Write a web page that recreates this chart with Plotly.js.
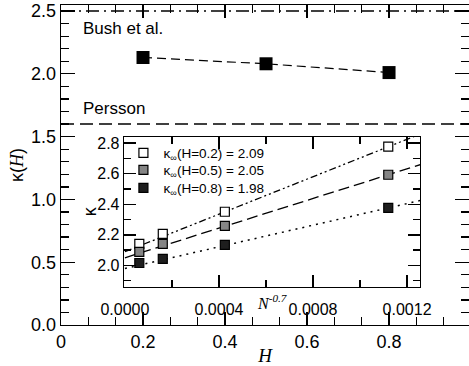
<!DOCTYPE html>
<html>
<head>
<meta charset="utf-8">
<script src="https://cdn.plot.ly/plotly-3.0.1.min.js"></script>
<style>html,body{margin:0;padding:0;background:#fff;overflow:hidden}</style>
</head>
<body>
<div id="chart" style="width:469px;height:366px"></div>
<script>
// Main panel data
var mainH = [0.2, 0.5, 0.8];
var mainKappa = [2.13, 2.08, 2.01];
var refLineX = [0, 1];
var bushLevel = [2.5, 2.5];
var perssonLevel = [1.6, 1.6];

// Inset data (x = N^-0.7)
var insetX = [0.0000611, 0.000161, 0.000425, 0.00112];
var insetH02 = [2.141, 2.207, 2.351, 2.777];
var insetH05 = [2.089, 2.141, 2.259, 2.593];
var insetH08 = [2.016, 2.043, 2.134, 2.377];
var fitX = [0, 0.00126];
var fitH02 = [2.09, 2.862];
var fitH05 = [2.05, 2.661];
var fitH08 = [1.98, 2.426];
var legendNames = ['κ<sub>∞</sub>(H=0.2) = 2.09', 'κ<sub>∞</sub>(H=0.5) = 2.05', 'κ<sub>∞</sub>(H=0.8) = 1.98'];

var SANS = "'Liberation Sans', Arial, sans-serif";
var SERIF = "'Liberation Serif', 'Times New Roman', serif";

var traces = [
  {x: refLineX, y: bushLevel, mode: 'lines', line: {color: 'black', width: 1.5, dash: '13px,5px,2px,5px'}, showlegend: false, xaxis: 'x', yaxis: 'y', hoverinfo: 'skip'},
  {x: refLineX, y: perssonLevel, mode: 'lines', line: {color: 'black', width: 1.5, dash: '13px,6px'}, showlegend: false, xaxis: 'x', yaxis: 'y', hoverinfo: 'skip'},
  {x: mainH, y: mainKappa, mode: 'lines+markers', line: {color: 'black', width: 1.2, dash: '9px,5px'},
   marker: {symbol: 'square', size: 13, color: 'black'}, showlegend: false, xaxis: 'x', yaxis: 'y'},
  // inset fits
  {x: fitX, y: fitH02, mode: 'lines', line: {color: 'black', width: 1.3, dash: '7px,3px,2px,3px,2px,3px'}, showlegend: false, xaxis: 'x2', yaxis: 'y2', hoverinfo: 'skip'},
  {x: fitX, y: fitH05, mode: 'lines', line: {color: 'black', width: 1.3, dash: '11px,5px'}, showlegend: false, xaxis: 'x2', yaxis: 'y2', hoverinfo: 'skip'},
  {x: fitX, y: fitH08, mode: 'lines', line: {color: 'black', width: 1.5, dash: '2px,5px'}, showlegend: false, xaxis: 'x2', yaxis: 'y2', hoverinfo: 'skip'},
  // inset points
  {x: insetX, y: insetH02, mode: 'markers', name: legendNames[0], legend: 'legend', marker: {symbol: 'square', size: 9, color: 'white', line: {color: 'black', width: 1.2}}, xaxis: 'x2', yaxis: 'y2'},
  {x: insetX, y: insetH05, mode: 'markers', name: legendNames[1], legend: 'legend2', marker: {symbol: 'square', size: 9, color: '#858585', line: {color: 'black', width: 1.2}}, xaxis: 'x2', yaxis: 'y2'},
  {x: insetX, y: insetH08, mode: 'markers', name: legendNames[2], legend: 'legend3', marker: {symbol: 'square', size: 9, color: '#1e1e1e', line: {color: 'black', width: 1.2}}, xaxis: 'x2', yaxis: 'y2'}
];

var axCommon = {showline: true, linecolor: 'black', linewidth: 1.3, mirror: 'allticks', ticks: 'inside',
  tickcolor: 'black', tickwidth: 1.3, showgrid: false, zeroline: false};

function legendAt(yPaper) {
  return {x: 0.153, xanchor: 'left', y: yPaper, yanchor: 'middle', bgcolor: 'rgba(0,0,0,0)',
    font: {family: SANS, size: 13.5, color: 'black'}};
}

var layout = {
  width: 469, height: 366,
  margin: {l: 61, r: 0, t: 5, b: 41},
  paper_bgcolor: 'white', plot_bgcolor: 'white',
  font: {family: SANS, color: 'black'},
  showlegend: true,
  legend: legendAt(0.5375),
  legend2: legendAt(0.484),
  legend3: legendAt(0.428),
  xaxis: Object.assign({}, axCommon, {
    range: [0, 0.995], tick0: 0, dtick: 0.2, ticklen: 13,
    minor: {dtick: 0.2 / 3, ticklen: 8, tickcolor: 'black', tickwidth: 1.3, ticks: 'inside'},
    tickfont: {family: SANS, size: 18},
    title: {text: '<i>H</i>', font: {family: SERIF, size: 19}, standoff: 3}
  }),
  yaxis: Object.assign({}, axCommon, {
    range: [0, 2.548], tick0: 0, dtick: 0.5, ticklen: 14, tickformat: '.1f',
    minor: {dtick: 0.1, ticklen: 8, tickcolor: 'black', tickwidth: 1.3, ticks: 'inside'},
    tickfont: {family: SANS, size: 18},
    title: {text: 'κ(<span style="font-family:Liberation Serif"><i>H</i></span>)', font: {family: SANS, size: 18}, standoff: 2}
  }),
  xaxis2: Object.assign({}, axCommon, {
    domain: [0.1544, 0.8799], anchor: 'y2',
    range: [-0.000004, 0.001255], tick0: 0, dtick: 0.0004, ticklen: 12, tickformat: '.4f',
    minor: {dtick: 0.0002, ticklen: 7, tickcolor: 'black', tickwidth: 1.3, ticks: 'inside'},
    tickfont: {family: SANS, size: 16}, ticklabelstandoff: 8
  }),
  yaxis2: Object.assign({}, axCommon, {
    domain: [0.1188, 0.5875], anchor: 'x2',
    range: [1.859, 2.84], tick0: 0, dtick: 0.2, ticklen: 12, tickformat: '.1f',
    minor: {dtick: 0.1, ticklen: 7, tickcolor: 'black', tickwidth: 1.3, ticks: 'inside'},
    tickfont: {family: SANS, size: 16}
  }),
  annotations: [
    {xref: 'paper', yref: 'paper', x: 0.049, y: 0.925, xanchor: 'left', yanchor: 'middle', showarrow: false,
     text: 'Bush et al.', font: {family: SANS, size: 17, color: 'black'}},
    {xref: 'paper', yref: 'paper', x: 0.049, y: 0.678, xanchor: 'left', yanchor: 'middle', showarrow: false,
     text: 'Persson', font: {family: SANS, size: 17, color: 'black'}},
    {xref: 'paper', yref: 'paper', x: 0.517, y: 0.072, xanchor: 'center', yanchor: 'middle', showarrow: false,
     text: '<i>N</i><sup><i>-0.7</i></sup>', font: {family: SERIF, size: 16, color: 'black'}},
    {xref: 'paper', yref: 'paper', x: 0.071, y: 0.355, xanchor: 'center', yanchor: 'middle', showarrow: false,
     textangle: -90, text: 'κ', font: {family: SANS, size: 18, color: 'black'}}
  ]
};

Plotly.newPlot('chart', traces, layout, {displayModeBar: false, staticPlot: true});
</script>
</body>
</html>
